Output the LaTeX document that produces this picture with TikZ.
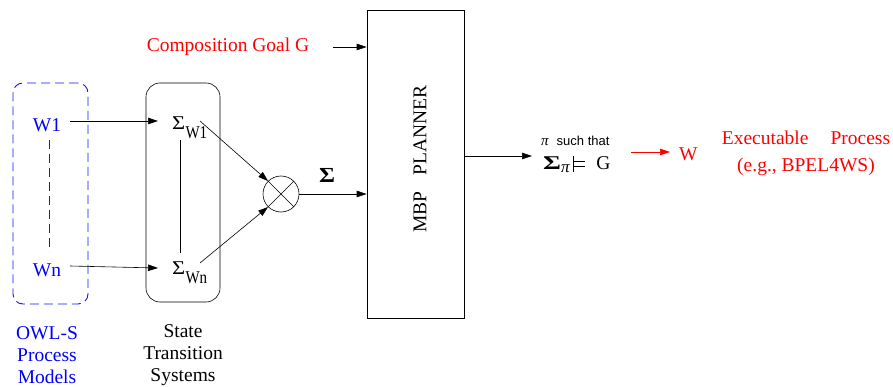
\documentclass[tikz,border=0pt]{standalone}
\usepackage[no-math]{fontspec}
\setmainfont{Liberation Serif}
\newfontfamily\serfont{Liberation Serif}
\newfontfamily\suchfont{Liberation Sans}
\usetikzlibrary{arrows.meta}
\definecolor{myblue}{RGB}{0,0,255}
\definecolor{dashblue}{RGB}{20,20,255}
\definecolor{myred}{RGB}{255,0,0}
\tikzset{
  lbl/.style={font=\serfont\fontsize{19.5}{22}\selectfont, inner sep=0pt},
  arr/.style={-{Triangle[length=10pt,width=6.5pt]}, line width=0.6pt},
  ln/.style={line width=0.6pt},
  dsh/.style={draw=dashblue, dash pattern=on 9pt off 5pt, line width=0.9pt}
}
\newcommand{\subtxt}[1]{\raisebox{-9pt}{\scalebox{1}[1.2]{\serfont\fontsize{15}{15}\selectfont #1}}}
\newcommand{\bigsig}{\scalebox{1.15}[1]{Σ}}
\newcommand{\boldsig}{\scalebox{1.4}[1]{\bfseries Σ}}
\begin{document}
\begin{tikzpicture}[x=1pt,y=-1pt]
\useasboundingbox (0,0) rectangle (893,387);
% blue dashed box
\node[dsh, rounded corners=10pt, minimum width=75pt, minimum height=221pt] (owl) at (50.5,193.5) {};
\node[lbl, text=myblue] (w1) at (47,125) {W1};
\node[lbl, text=myblue] (wn) at (47,270) {Wn};
\draw[dsh] (49,140) coordinate (d1) -- (49,252) coordinate (d2);
% state transition box
\node[draw, rounded corners=14pt, line width=0.6pt, minimum width=74pt, minimum height=219pt] (sts) at (183,192.5) {};
\node[lbl, anchor=base west] (s1) at (172,129.5) {\bigsig\kern0.3pt\subtxt{W1}};
\node[lbl, anchor=base west] (sn) at (172,274.5) {\bigsig\kern0.3pt\subtxt{Wn}};
\draw[ln] (180,140) coordinate (v1) -- (180,253) coordinate (v2);
\coordinate (w1e) at (70,121);
\coordinate (s1w) at (158,121);
\coordinate (wne) at (70,266);
\coordinate (snw) at (158,268);
\draw[arr] (w1e) -- (s1w);
\draw[arr] (wne) -- (snw);
% circle otimes
\node[draw, circle, minimum size=36pt, inner sep=0pt, line width=0.6pt] (ot) at (281,194) {};
\draw[ln] (ot.north west) -- (ot.south east);
\draw[ln] (ot.north east) -- (ot.south west);
\coordinate (s1o) at (200,121);
\coordinate (sno) at (200,263);
\draw[arr] (s1o) -- (ot.north west);
\draw[arr] (sno) -- (ot.south west);
% MBP planner
\node[draw, line width=0.6pt, minimum width=97pt, minimum height=308pt] (mbp) at (415.5,164) {};
\node[lbl, rotate=90] (mbpt) at (420,159) {MBP\hspace{16pt}PLANNER};
\draw[arr] (ot.east) -- (ot.east -| mbp.west) coordinate (mbpin);
\node[lbl, anchor=base] (sig) at (327,183) {\scalebox{1.25}[1.1]{\bfseries Σ}};
% composition goal
\node[lbl, text=myred] (goal) at (228,47) {Composition Goal G};
\coordinate (ga) at (333,47);
\draw[arr] (ga) -- (ga -| mbp.west);
% output
\coordinate (mo) at (464,156);
\coordinate (po) at (532,156);
\draw[ln] (mbp.east |- mo) -- (mo);
\draw[arr] (mo) -- (po);
\node[inner sep=0pt, anchor=base west] (pi) at (541,146) {\serfont\fontsize{15}{15}\selectfont\itshape π\hspace{8pt}\upshape\suchfont\fontsize{13}{15}\selectfont such that};
\node[lbl, anchor=base west] (sat) at (543,170) {\boldsig\raisebox{-3pt}{\fontsize{17}{17}\selectfont\itshape π}\kern3pt\rule[-2pt]{0.7pt}{16pt}\kern1pt\rule[3pt]{11pt}{0.7pt}\kern-11pt\rule[8pt]{11pt}{0.7pt}\hspace{11pt}G};
\coordinate (r1) at (631,152);
\coordinate (r2) at (670,152);
\draw[arr, myred] (r1) -- (r2);
\node[lbl, text=myred, anchor=base west] (w) at (679,161) {W};
\node[lbl, text=myred, anchor=base] (exe) at (806,145) {Executable\hspace{22pt}Process};
\node[lbl, text=myred, anchor=base] (exe2) at (806,172) {(e.g., BPEL4WS)};
% bottom labels
\node[lbl, text=myblue, align=center] (owlt) at (47,355) {OWL-S\\Process\\Models};
\node[lbl, align=center] (stst) at (183,355) {State\\Transition\\Systems};
\end{tikzpicture}
\end{document}
